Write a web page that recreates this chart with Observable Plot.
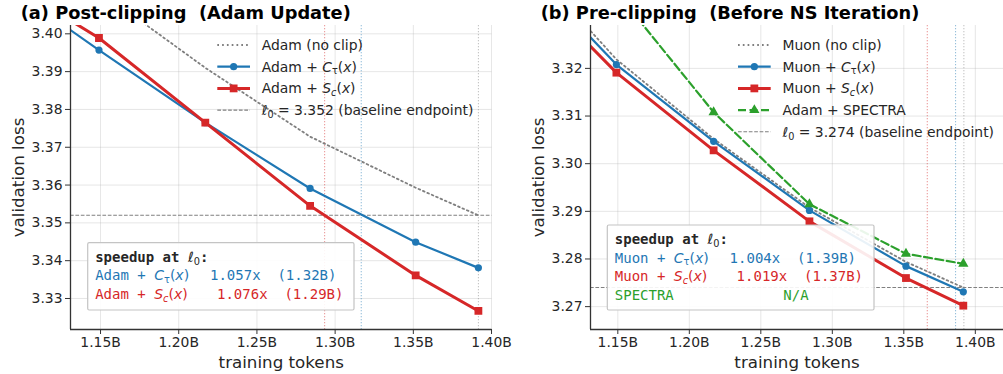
<!DOCTYPE html>
<html><head><meta charset="utf-8">
<script src="https://cdn.jsdelivr.net/npm/d3@7"></script>
<script src="https://cdn.jsdelivr.net/npm/@observablehq/plot@0.6"></script>
<style>
body{margin:0;background:#fff;font-family:"DejaVu Sans";}
#wrap{display:flex;width:1003px;height:374px;overflow:hidden}
.panel{position:relative}
.title{height:25px;line-height:25px;font-weight:bold;font-size:17.8px;white-space:pre;color:#000;font-family:"DejaVu Sans"}
svg{display:block;overflow:visible}
</style></head><body><div id="wrap"></div>
<script>
// ---------- data ----------
const xTicks = [1.15, 1.20, 1.25, 1.30, 1.35, 1.40];
const tokens = [1.0815, 1.149, 1.217, 1.284, 1.3515, 1.3916];

// (a) Post-clipping
const adamNoClip = [3.4300, 3.4114, 3.3910, 3.3728, 3.3593, 3.3520];
const adamC      = [3.4153, 3.3957, 3.3765, 3.3591, 3.3449, 3.3381];
const adamS      = [3.4160, 3.3989, 3.3765, 3.3545, 3.3361, 3.3267];
const adamYTicks = [3.33, 3.34, 3.35, 3.36, 3.37, 3.38, 3.39, 3.40];
const adamL0 = 3.352;
const adamCross = [1.2933, 1.3167, 1.3916]; // S, C, baseline

// (b) Pre-clipping
const muonNoClip = [3.3442, 3.3219, 3.3052, 3.2908, 3.2794, 3.2740];
const muonC      = [3.3421, 3.3208, 3.3047, 3.2902, 3.2785, 3.2731];
const muonS      = [3.3396, 3.3191, 3.3028, 3.2879, 3.2760, 3.2702];
const spectra    = [3.3630, 3.3360, 3.3108, 3.2915, 3.2811, 3.2790];
const muonYTicks = [3.27, 3.28, 3.29, 3.30, 3.31, 3.32];
const muonL0 = 3.274;
const muonCross = [1.3664, 1.3862, 1.3920];

const titles = ["(a) Post-clipping  (Adam Update)", "(b) Pre-clipping  (Before NS Iteration)"];
const adamLegend = ["Adam (no clip)", "Adam + $C_τ(x)$", "Adam + $S_c(x)$", "$ℓ_0$ = 3.352 (baseline endpoint)"];
const muonLegend = ["Muon (no clip)", "Muon + $C_τ(x)$", "Muon + $S_c(x)$", "Adam + SPECTRA", "$ℓ_0$ = 3.274 (baseline endpoint)"];
const adamBox = ["speedup at $ℓ_0$:", "Adam + $C_τ(x)$  1.057x  (1.32B)", "Adam + $S_c(x)$   1.076x  (1.29B)"];
const muonBox = ["speedup at $ℓ_0$:", "Muon + $C_τ(x)$  1.004x  (1.39B)", "Muon + $S_c(x)$   1.019x  (1.37B)", "SPECTRA             N/A"];

// ---------- styles ----------
const BLUE = "#1f77b4", RED = "#d62728", GREEN = "#2ca02c", GRAY = "#7f7f7f";
const STY = {
  noclip: {stroke: GRAY, strokeWidth: 1.8, strokeDasharray: "1.7,3.1"},
  C: {stroke: BLUE, strokeWidth: 2.2, symbol: "circle", r: 3.6},
  S: {stroke: RED, strokeWidth: 3, symbol: "square", r: 4.4},
  sp: {stroke: GREEN, strokeWidth: 2.2, strokeDasharray: "8,3.5", symbol: "triangle", r: 3.8},
  base: {stroke: "#808080", strokeWidth: 1.1, strokeDasharray: "3.7,1.7"}
};

function table(vals) { return tokens.map((t, i) => ({t, v: vals[i]})); }

function rich(g, x, y, str, {family = "DejaVu Sans", size = 13.9, weight = "normal", fill = "#262626", mathPad = 0} = {}) {
  const t = g.append("text").attr("x", x).attr("y", y).attr("fill", fill)
    .attr("font-size", size).attr("font-family", family).attr("font-weight", weight)
    .attr("text-anchor", "start").style("white-space", "pre");
  const parts = str.split("$");
  let shift = 0;
  parts.forEach((p, i) => {
    if (i % 2 === 0) {
      if (!p) return;
      const s = t.append("tspan").text(p);
      let dy = 0; if (shift) { dy = -shift; shift = 0; }
      if (dy) s.attr("dy", dy);
      if (i > 0 && mathPad && p[0] === " ") s.attr("dx", mathPad);
    } else {
      for (let k = 0; k < p.length; k++) {
        let ch = p[k], sub = false;
        if (ch === "_") { sub = true; ch = p[++k]; }
        const s = t.append("tspan").text(ch).attr("font-family", "DejaVu Sans").attr("font-weight", "normal");
        if (/[A-Za-zℓ]/.test(ch)) s.attr("font-style", "italic");
        if (sub) { s.attr("font-size", size * 0.7); const d = size * 0.2; s.attr("dy", d - shift); shift = d; }
        else if (shift) { s.attr("dy", -shift); shift = 0; }
      }
    }
  });
  return t;
}

function symbolPath(name, r) {
  const type = {circle: d3.symbolCircle, square: d3.symbolSquare, triangle: d3.symbolTriangle}[name];
  return d3.symbol().type(type).size(Math.PI * r * r)();
}

function panel(cfg) {
  const div = d3.select("#wrap").append("div").attr("class", "panel").style("width", cfg.width + "px");
  div.append("div").attr("class", "title").style("padding-left", cfg.titleX + "px").text(cfg.title);

  const marks = [
    Plot.gridX({ticks: xTicks, stroke: "#b0b0b0", strokeOpacity: 0.4, strokeWidth: 0.8}),
    Plot.gridY({ticks: cfg.yTicks, stroke: "#b0b0b0", strokeOpacity: 0.4, strokeWidth: 0.8}),
    Plot.ruleX(cfg.cross, {x: d => d, stroke: (d, i) => [RED, BLUE, GRAY][i], strokeOpacity: 0.5, strokeWidth: 1, strokeDasharray: "1.3,1.7"}),
    Plot.ruleY([cfg.l0], {y: d => d, ...STY.base})
  ];
  for (const s of cfg.series) {
    const st = STY[s.style];
    marks.push(Plot.line(table(s.vals), {x: "t", y: "v", stroke: st.stroke, strokeWidth: st.strokeWidth, strokeDasharray: st.strokeDasharray, clip: true}));
    if (st.symbol) marks.push(Plot.dot(table(s.vals).slice(1), {x: "t", y: "v", symbol: st.symbol, r: st.r, fill: st.stroke, stroke: "none", clip: true}));
  }
  marks.push(
    Plot.ruleX([cfg.xDomain[0]], {x: d => d, stroke: "#333", strokeWidth: 1.3}),
    Plot.ruleY([cfg.yDomain[0]], {y: d => d, stroke: "#333", strokeWidth: 1.3}),
    Plot.axisX({ticks: xTicks, tickFormat: d => d.toFixed(2) + "B", tickSize: 5, tickPadding: 3, label: null, stroke: "#333"}),
    Plot.axisY({ticks: cfg.yTicks, tickFormat: d => d.toFixed(2), tickSize: 5, tickPadding: 3, label: null, stroke: "#333"}),
    Plot.text(["training tokens"], {text: d => d, frameAnchor: "bottom", dy: 33, lineAnchor: "middle", fontSize: 16.7, fill: "#262626"}),
    Plot.text(["validation loss"], {text: d => d, frameAnchor: "left", dx: -52, rotate: -90, lineAnchor: "middle", textAnchor: "middle", fontSize: 16.7, fill: "#262626"})
  );

  const chart = Plot.plot({
    width: cfg.width, height: 349,
    marginTop: 0, marginBottom: 45, marginLeft: cfg.marginLeft, marginRight: cfg.marginRight,
    x: {domain: cfg.xDomain},
    y: {domain: cfg.yDomain},
    color: {type: "identity"},
    style: {fontFamily: "DejaVu Sans", fontSize: "13.9px", color: "#262626", background: "transparent", overflow: "visible"},
    marks
  });
  div.node().appendChild(chart);
  const svg = d3.select(chart);

  // legend
  const lg = svg.append("g");
  cfg.legend.forEach((lab, i) => {
    const st = STY[cfg.legendStyles[i]];
    const y = cfg.legY + i * 21.7;
    lg.append("line").attr("x1", cfg.legX).attr("x2", cfg.legX + 32.7).attr("y1", y).attr("y2", y)
      .attr("stroke", st.stroke).attr("stroke-width", st.strokeWidth).attr("stroke-dasharray", st.strokeDasharray || null);
    if (st.symbol) lg.append("path").attr("d", symbolPath(st.symbol, st.r)).attr("transform", `translate(${cfg.legX + 16.35},${y})`).attr("fill", st.stroke);
    rich(lg, cfg.legX + 44.4, y + 5, lab, {size: 13.9});
  });

  // speedup box
  const b = cfg.box;
  const bg = svg.append("g");
  bg.append("rect").attr("x", b.x).attr("y", b.y).attr("width", b.w).attr("height", b.h)
    .attr("fill", "white").attr("fill-opacity", 0.9).attr("stroke", "#c4c4c4").attr("stroke-width", 1.2).attr("rx", 1.5);
  cfg.boxText.forEach((line, i) => {
    rich(bg, b.x + 7.5, b.y + 19 + i * 18.5, line, {family: "DejaVu Sans Mono", size: 14, weight: i === 0 ? "bold" : "normal", fill: b.colors[i], mathPad: 4});
  });
}

panel({
  width: 500, marginLeft: 70, marginRight: 8.5, title: titles[0], titleX: 20.7,
  xDomain: [1.1308, 1.4003], yDomain: [3.3218, 3.4022], yTicks: adamYTicks,
  l0: adamL0, cross: adamCross,
  series: [{vals: adamNoClip, style: "noclip"}, {vals: adamC, style: "C"}, {vals: adamS, style: "S"}],
  legend: adamLegend, legendStyles: ["noclip", "C", "S", "base"], legX: 217.3, legY: 20,
  box: {x: 87.7, y: 217.7, w: 266.3, h: 67.3, colors: ["#262626", BLUE, RED]}, boxText: adamBox
});

panel({
  width: 503, marginLeft: 90, marginRight: 0, title: titles[1], titleX: 40.7,
  xDomain: [1.1309, 1.4197], yDomain: [3.2652, 3.3290], yTicks: muonYTicks,
  l0: muonL0, cross: muonCross,
  series: [{vals: muonNoClip, style: "noclip"}, {vals: muonC, style: "C"}, {vals: muonS, style: "S"}, {vals: spectra, style: "sp"}],
  legend: muonLegend, legendStyles: ["noclip", "C", "S", "sp", "base"], legX: 238, legY: 20,
  box: {x: 107.3, y: 200, w: 266.7, h: 85, colors: ["#262626", BLUE, RED, GREEN]}, boxText: muonBox
});
</script></body></html>
